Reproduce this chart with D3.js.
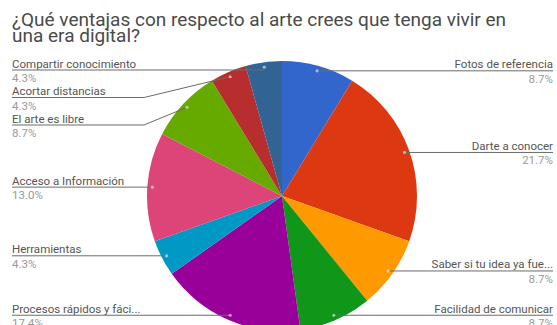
<!DOCTYPE html>
<html>
<head>
<meta charset="utf-8">
<script src="https://cdn.jsdelivr.net/npm/d3@7/dist/d3.min.js"></script>
<style>
  html, body { margin: 0; padding: 0; background: #fff; }
  svg { display: block; font-family: Roboto, "Noto Sans", Arial, sans-serif; }
</style>
</head>
<body>
<svg id="chart" width="557" height="325"></svg>
<script>
// Survey answers, clockwise from 12 o'clock
const categories = [
  "Fotos de referencia",
  "Darte a conocer",
  "Saber si tu idea ya fue...",
  "Facilidad de comunicar",
  "Procesos rápidos y fáci...",
  "Herramientas",
  "Acceso a Información",
  "El arte es libre",
  "Acortar distancias",
  "Compartir conocimiento"
];
const responses = [2, 5, 2, 2, 4, 1, 3, 2, 1, 1];
const colors = ["#3366cc", "#dc3912", "#ff9900", "#109618", "#990099",
                "#0099c6", "#dd4477", "#66aa00", "#b82e2e", "#316395"];
const titleLines = [
  "¿Qué ventajas con respecto al arte crees que tenga vivir en",
  "una era digital?"
];

const cx = 282, cy = 196, R = 135;
const leftX = 12, rightX = 553;

const svg = d3.select("#chart");

// Title
svg.append("text")
  .attr("x", 12).attr("y", 25.5)
  .attr("fill", "#4a4a4a")
  .style("font-size", "19px")
  .selectAll("tspan").data(titleLines).join("tspan")
  .attr("x", 12)
  .attr("dy", (d, i) => i === 0 ? 0 : 16)
  .text(d => d);

const total = d3.sum(responses);
const data = categories.map((c, i) => ({ name: c, value: responses[i], color: colors[i],
  pct: (responses[i] / total * 100).toFixed(1) + "%" }));

const pie = d3.pie().value(d => d.value).sort(null);
const arcs = pie(data);
const arc = d3.arc().innerRadius(0).outerRadius(R);

const g = svg.append("g").attr("transform", `translate(${cx},${cy})`);
g.selectAll("path.slice").data(arcs).join("path")
  .attr("class", "slice")
  .attr("d", arc)
  .attr("fill", d => d.data.color);

// Anchor points just inside the rim, at each slice's middle angle
const anchorArc = d3.arc().innerRadius(R - 5).outerRadius(R - 5);
arcs.forEach(a => {
  const [x, y] = anchorArc.centroid(a);
  a.ax = cx + x; a.ay = cy + y;
  a.mid = (a.startAngle + a.endAngle) / 2;
  a.side = a.mid < Math.PI ? "right" : "left";
});

// Stack labels on each side so they do not overlap
const gap = 27.5, topLimit = 70;
["left", "right"].forEach(side => {
  const list = arcs.filter(a => a.side === side).sort((a, b) => a.ay - b.ay);
  let prev = -Infinity;
  list.forEach(a => {
    const y = Math.max(a.ay, topLimit, prev + gap);
    a.ly = y; prev = y;
  });
});

const labels = svg.append("g");
arcs.forEach(a => {
  const right = a.side === "right";
  const edgeX = right ? rightX : leftX;
  const bendX = right ? cx + R + 3 : cx - R - 3;
  const pts = Math.abs(a.ly - a.ay) < 4
    ? [[a.ax, a.ly], [edgeX, a.ly]]
    : [[a.ax, a.ay], [bendX, a.ly], [edgeX, a.ly]];
  labels.append("path")
    .attr("d", d3.line()(pts))
    .attr("fill", "none")
    .attr("stroke", "#6b6b6b")
    .attr("stroke-width", 1);
  labels.append("circle")
    .attr("cx", a.ax).attr("cy", a.ay).attr("r", 1.6)
    .attr("fill", "#fff").attr("fill-opacity", 0.55);
  labels.append("text")
    .attr("x", edgeX).attr("y", a.ly - 2.5)
    .attr("text-anchor", right ? "end" : "start")
    .attr("fill", "#555")
    .style("font-size", "11.5px")
    .text(a.data.name);
  labels.append("text")
    .attr("x", edgeX).attr("y", a.ly + 12)
    .attr("text-anchor", right ? "end" : "start")
    .attr("fill", "#9a9a9a")
    .style("font-size", "11.5px")
    .text(a.data.pct);
});
</script>
</body>
</html>
